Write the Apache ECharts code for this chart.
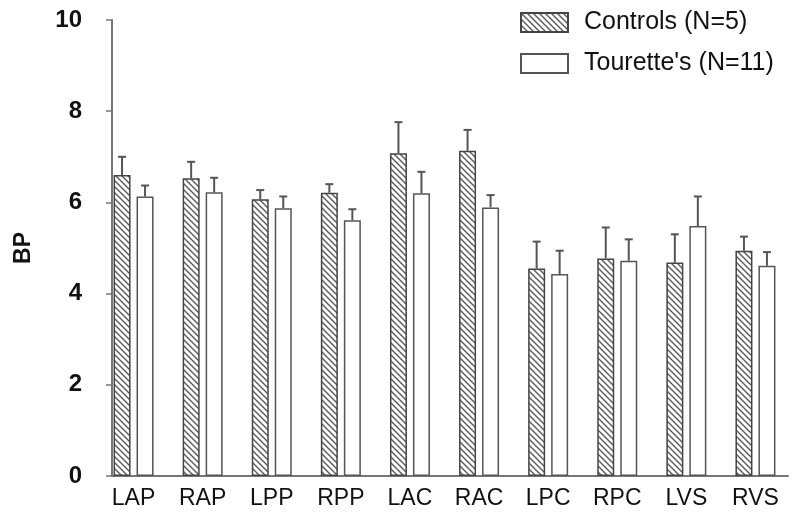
<!DOCTYPE html>
<html>
<head>
<meta charset="utf-8">
<script src="https://cdn.jsdelivr.net/npm/echarts@6/dist/echarts.min.js"></script>
<style>html,body{margin:0;padding:0;background:#fff}#c{width:800px;height:532px}</style>
</head>
<body>
<div id="c"></div>
<script>
var categories = ['LAP','RAP','LPP','RPP','LAC','RAC','LPC','RPC','LVS','RVS'];
var controlsMean = [6.60, 6.53, 6.07, 6.21, 7.08, 7.13, 4.55, 4.77, 4.68, 4.94];
var controlsErr  = [0.40, 0.36, 0.20, 0.19, 0.68, 0.46, 0.59, 0.68, 0.62, 0.31];
var touretteMean = [6.13, 6.22, 5.87, 5.61, 6.20, 5.89, 4.43, 4.72, 5.48, 4.61];
var touretteErr  = [0.24, 0.32, 0.26, 0.24, 0.47, 0.27, 0.51, 0.47, 0.65, 0.30];
var yTicks = [0, 2, 4, 6, 8, 10];
var seriesNames = ['Controls (N=5)', "Tourette's (N=11)"];

var FONT = 'Liberation Sans, Arial, sans-serif';
var BAR_W = 17, BAR_GAP_PX = 6;

function hatch() {
  var s = 6, cv = document.createElement('canvas');
  cv.width = s; cv.height = s;
  var g = cv.getContext('2d');
  g.fillStyle = '#ffffff'; g.fillRect(0, 0, s, s);
  g.strokeStyle = '#5a5a5a'; g.lineWidth = 1.4;
  g.beginPath();
  g.moveTo(-1, -1); g.lineTo(s + 1, s + 1);
  g.moveTo(-1, s - 1); g.lineTo(1, s + 1);
  g.moveTo(s - 1, -1); g.lineTo(s + 1, 1);
  g.stroke();
  return cv;
}
var pattern = { image: hatch(), repeat: 'repeat' };

function errData(mean, err) {
  return mean.map(function (m, i) { return [i, m, m + err[i]]; });
}
function errRender(offset) {
  return function (params, api) {
    var base = api.coord([api.value(0), api.value(1)]);
    var top = api.coord([api.value(0), api.value(2)]);
    var x = base[0] + offset;
    var st = { stroke: '#555', lineWidth: 2 };
    return {
      type: 'group',
      children: [
        { type: 'line', shape: { x1: x, y1: base[1], x2: x, y2: top[1] }, style: st },
        { type: 'line', shape: { x1: x - 4, y1: top[1], x2: x + 4, y2: top[1] }, style: st }
      ]
    };
  };
}
var off = (BAR_W + BAR_GAP_PX) / 2;

var chart = echarts.init(document.getElementById('c'));
chart.setOption({
  animation: false,
  backgroundColor: '#fff',
  grid: [
    { left: 99, right: 10, top: 20, bottom: 56 },
    { left: 112, right: 12, top: 20, bottom: 56 }
  ],
  legend: {
    data: seriesNames,
    orient: 'vertical',
    left: 515, top: 5,
    icon: 'rect',
    itemWidth: 47, itemHeight: 19, itemGap: 16,
    textStyle: { fontFamily: FONT, fontSize: 25, color: '#111', padding: [0, 0, 0, 11] }
  },
  xAxis: [
    {
      type: 'category', gridIndex: 0, data: categories,
      axisLine: { show: false }, axisTick: { show: false },
      axisLabel: { fontFamily: FONT, fontSize: 23, color: '#111', margin: 11 }
    },
    {
      type: 'value', gridIndex: 1, min: 0, max: 1,
      axisLine: { show: true, lineStyle: { color: '#777', width: 2 } },
      axisTick: { show: false }, axisLabel: { show: false }, splitLine: { show: false }
    }
  ],
  yAxis: [
    {
      type: 'value', gridIndex: 0, min: 0, max: 10, interval: 2, show: false
    },
    {
      type: 'value', gridIndex: 1, min: yTicks[0], max: yTicks[yTicks.length - 1], interval: 2,
      name: 'BP', nameLocation: 'middle', nameGap: 77, nameRotate: 90,
      nameTextStyle: { fontFamily: FONT, fontSize: 23, fontWeight: 'bold', color: '#111' },
      axisLine: { show: true, lineStyle: { color: '#777', width: 2 } },
      axisTick: { show: true, inside: false, length: 6, lineStyle: { color: '#777', width: 1.5 } },
      axisLabel: { fontFamily: FONT, fontSize: 24, fontWeight: 'bold', color: '#111', margin: 30 },
      splitLine: { show: false }
    }
  ],
  series: [
    {
      name: seriesNames[0], type: 'bar', xAxisIndex: 0, yAxisIndex: 0,
      data: controlsMean, barWidth: BAR_W, barGap: (BAR_GAP_PX / BAR_W * 100) + '%',
      itemStyle: { color: pattern, borderColor: '#444', borderWidth: 1.5 }
    },
    {
      name: seriesNames[1], type: 'bar', xAxisIndex: 0, yAxisIndex: 0,
      data: touretteMean, barWidth: BAR_W,
      itemStyle: { color: '#fff', borderColor: '#555', borderWidth: 1.5 }
    },
    {
      type: 'custom', xAxisIndex: 0, yAxisIndex: 0, z: 5,
      renderItem: errRender(-off), data: errData(controlsMean, controlsErr)
    },
    {
      type: 'custom', xAxisIndex: 0, yAxisIndex: 0, z: 5,
      renderItem: errRender(off), data: errData(touretteMean, touretteErr)
    }
  ]
});
</script>
</body>
</html>
